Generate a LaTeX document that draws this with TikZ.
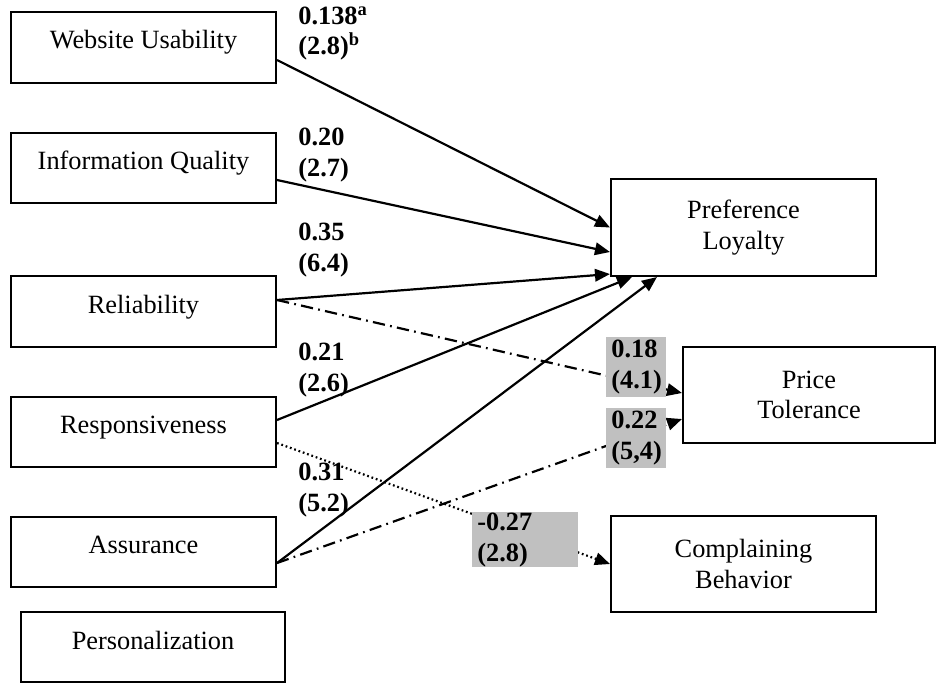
\documentclass[tikz,border=0pt]{standalone}
\usepackage{fontspec}
\setmainfont{Liberation Serif}
\usetikzlibrary{arrows.meta,positioning,calc}
\definecolor{coefgray}{RGB}{192,192,192}
\tikzset{>={Triangle[length=0.3cm,width=0.25cm]}}
\tikzset{
  varbox/.style={draw, line width=1.2pt, minimum width=5.3cm, inner sep=0pt,
    text height=21pt, text depth=19.3pt, font=\fontsize{15}{17.5}\selectfont},
  outbox/.style={draw, line width=1.2pt, minimum width=5.3cm, minimum height=1.94cm,
    align=center, font=\fontsize{15}{17.5}\selectfont},
  coef/.style={anchor=north west, align=left, inner sep=0pt,
    font=\fontsize{15}{17.5}\selectfont\bfseries},
  coefshade/.style={coef, fill=coefgray, text width=1cm, inner xsep=0.1cm, inner ysep=1.5pt},
  effect/.style={->, line width=1.25pt},
  altpath/.style={->, line width=1.25pt, dash pattern=on 7pt off 3pt on 1pt off 3pt},
  negpath/.style={->, line width=1.25pt, dash pattern=on 1pt off 1.6pt},
}

\begin{document}
\begin{tikzpicture}[x=0.02cm,y=-0.02cm]
  \useasboundingbox (0,0) rectangle (937,684);
  % service quality dimensions
  \node[varbox] (wu) at (143.5,47.5) {Website Usability};
  \node[varbox] (iq) at (143.5,168) {Information Quality};
  \node[varbox] (rel) at (143.5,311.5) {Reliability};
  \node[varbox] (resp) at (143.5,432) {Responsiveness};
  \node[varbox] (assur) at (143.5,552) {Assurance};
  \node[varbox, minimum width=5.28cm, text depth=18.7pt] (pers) at (153,647) {Personalization};
  % outcomes
  \node[outbox] (pl) at (743.5,227.5) {Preference\\Loyalty};
  \node[outbox, minimum width=5.04cm, minimum height=1.92cm] (pt) at (809,395) {Price\\Tolerance};
  \node[outbox, minimum height=1.92cm] (cb) at (743.5,564) {Complaining\\Behavior};
  % paths
  \draw[effect] ($(wu.east)+(0,12.5)$) -- (pl.west);
  \draw[effect] ($(iq.east)+(0,12)$) -- ($(pl.west)+(0,24.5)$);
  \draw[effect] ($(rel.east)+(0,-11.5)$) -- ($(pl.south west)+(0,-3)$);
  \draw[effect] ($(resp.east)+(0,-12)$) -- ($(pl.south west)+(22,0)$);
  \draw[effect] ($(assur.east)+(0,11)$) -- ($(pl.south west)+(47,0)$);
  \draw[altpath] ($(rel.east)+(0,-11.5)$) -- ($(pt.west)+(0,-2)$);
  \draw[altpath] ($(assur.east)+(0,11)$) -- ($(pt.west)+(0,24)$);
  \draw[negpath] ($(resp.east)+(0,11)$) -- (cb.west);
  % coefficients
  \node[coef] (c1) at (298,6) {0.138\textsuperscript{a}\\(2.8)\textsuperscript{b}};
  \node[coef] (c2) at (298,128) {0.20\\(2.7)};
  \node[coef] (c3) at (298,223) {0.35\\(6.4)};
  \node[coef] (c4) at (298,343) {0.21\\(2.6)};
  \node[coef] (c5) at (298,463) {0.31\\(5.2)};
  \node[coefshade] (c6) at (606,337) {0.18\\(4.1)};
  \node[coefshade] (c7) at (606,408) {0.22\\(5,4)};
  \node[coefshade, text width=1.92cm, inner ysep=0.3pt] (c8) at (472,512) {-0.27\\(2.8)};
\end{tikzpicture}
\end{document}
